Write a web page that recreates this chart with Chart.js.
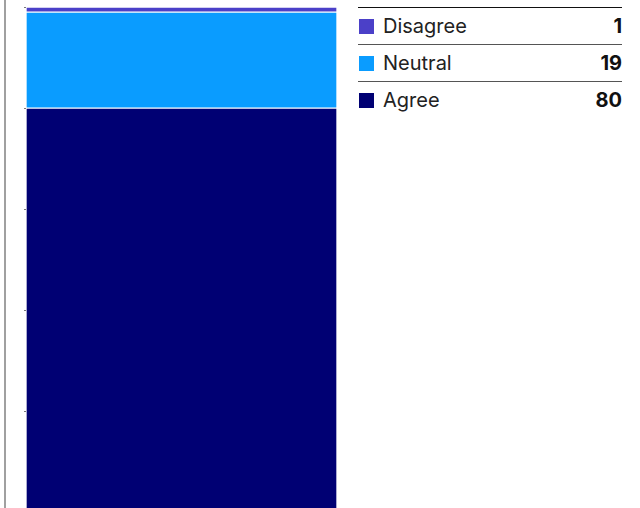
<!DOCTYPE html>
<html>
<head>
<meta charset="utf-8">
<script src="https://cdn.jsdelivr.net/npm/chart.js@4.4.1/dist/chart.umd.min.js"></script>
<style>
  html, body { margin: 0; padding: 0; background: #fff; }
  #wrap { position: relative; width: 640px; height: 508px; overflow: hidden; background: #fff; }
  #frame { position: absolute; left: 4px; top: 0; width: 2px; height: 508px; background: #a0a0a0; }
  #chartBox { position: absolute; left: 0; top: 0; width: 340px; height: 514px; }
  #legend {
    position: absolute; left: 358px; top: 7px; width: 264px;
    border-collapse: collapse; border-top: 1px solid #111;
    font-family: Inter, Roboto, "Noto Sans", sans-serif; font-size: 20px; color: #222;
  }
  #legend td { height: 36px; padding: 0; vertical-align: middle; }
  #legend tr + tr td { border-top: 1px solid #555; }
  #legend .sw { display: inline-block; width: 15px; height: 15px; margin: 0 9px 0 1px; vertical-align: -1px; }
  #legend .val { text-align: right; font-weight: bold; color: #111; }
</style>
</head>
<body>
<div id="wrap">
  <div id="frame"></div>
  <div id="chartBox"><canvas id="stackChart"></canvas></div>
  <table id="legend"></table>
</div>
<script>
'use strict';

/* ── data ─────────────────────────────────────────────────────────────── */
const CATEGORIES = ['Disagree', 'Neutral', 'Agree'];
const VALUES = [1, 19, 80];
const COLORS = ['#4B40C8', '#0A9CFF', '#000073'];
const Y_TICKS = [0, 20, 40, 60, 80, 100];

/* ── legend table (top to bottom, same order as the stack) ───────────── */
const legend = document.getElementById('legend');
CATEGORIES.forEach((name, i) => {
    const tr = document.createElement('tr');
    tr.innerHTML = `
        <td><span class="sw" style="background:${COLORS[i]}"></span>${name}</td>
        <td class="val">${VALUES[i]}</td>`;
    legend.appendChild(tr);
});

/* ── stacked bar: Agree at the bottom, Disagree on top ───────────────── */
const datasets = CATEGORIES.map((name, i) => ({
    label: name,
    data: [VALUES[i]],
    backgroundColor: COLORS[i],
    borderColor: '#ffffff',
    borderWidth: 1,
    borderSkipped: false,
    barPercentage: 1,
    categoryPercentage: 1,
})).reverse();

new Chart(document.getElementById('stackChart'), {
    type: 'bar',
    data: { labels: [''], datasets },
    options: {
        responsive: true,
        maintainAspectRatio: false,
        animation: false,
        layout: { padding: { top: 7, left: 22, right: 3, bottom: 1 } },
        plugins: { legend: { display: false }, tooltip: { enabled: false } },
        scales: {
            x: { stacked: true, display: false },
            y: {
                stacked: true,
                min: Y_TICKS[0],
                max: Y_TICKS[Y_TICKS.length - 1],
                ticks: { display: false, stepSize: Y_TICKS[1] - Y_TICKS[0] },
                grid: { drawOnChartArea: false, drawTicks: true, tickLength: 2, color: '#777' },
                border: { display: false },
                afterFit: scale => { scale.width = 4; },
            },
        },
    },
});
</script>
</body>
</html>
